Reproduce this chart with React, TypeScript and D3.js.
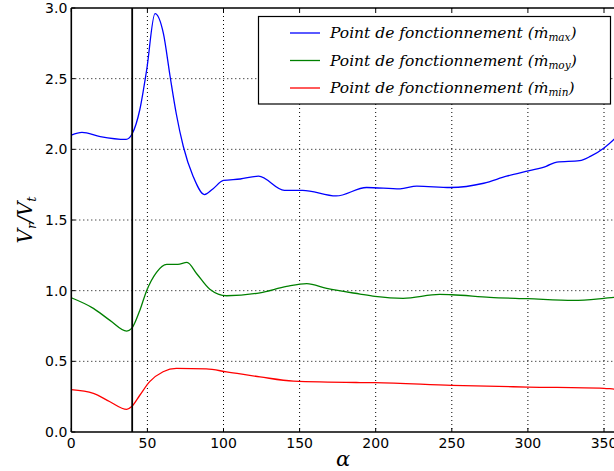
import React from 'react';
import * as d3 from 'd3';

// alpha positions and ratio Vr/Vt
const alphaMax = [0, 7, 19, 36, 40, 45, 49.5, 55, 60.5, 65, 69, 73.6, 80, 87.5, 93, 100, 111, 123, 140, 152, 174, 194, 216, 227, 249, 271, 286, 301, 312, 319, 334, 341, 350, 356.5, 360];
const ratioMax = [2.1, 2.12, 2.09, 2.07, 2.11, 2.28, 2.56, 2.96, 2.82, 2.51, 2.25, 2.02, 1.81, 1.68, 1.72, 1.78, 1.79, 1.81, 1.71, 1.71, 1.67, 1.73, 1.72, 1.74, 1.73, 1.76, 1.81, 1.85, 1.88, 1.91, 1.92, 1.95, 2.01, 2.07, 2.11];

const alphaMoy = [0, 14.5, 25.4, 36.4, 39.7, 45, 49.5, 56, 62.7, 70, 76, 82.4, 91, 102, 124, 141.5, 154.7, 167.8, 189.7, 199.5, 218, 242, 250, 275, 300, 330, 350, 356.5, 360];
const ratioMoy = [0.95, 0.875, 0.79, 0.714, 0.733, 0.86, 1.0, 1.13, 1.186, 1.186, 1.2, 1.12, 1.01, 0.964, 0.985, 1.03, 1.05, 1.016, 0.976, 0.96, 0.946, 0.974, 0.971, 0.953, 0.943, 0.931, 0.946, 0.953, 0.955];

const alphaMin = [0, 14.5, 25.4, 36.4, 39.7, 45, 51.5, 60.3, 69, 88.7, 102, 124, 146, 189.7, 199.5, 250, 300, 350, 356.5, 360];
const ratioMin = [0.3, 0.274, 0.214, 0.16, 0.18, 0.26, 0.356, 0.426, 0.45, 0.446, 0.426, 0.39, 0.36, 0.35, 0.349, 0.33, 0.318, 0.309, 0.304, 0.302];

const xTicks = [0, 50, 100, 150, 200, 250, 300, 350];
const yTicks = [0, 0.5, 1.0, 1.5, 2.0, 2.5, 3.0];
const verticalMark = 40;

const series = [
  { name: 'max', color: '#0000ff', xs: alphaMax, ys: ratioMax },
  { name: 'moy', color: '#008000', xs: alphaMoy, ys: ratioMoy },
  { name: 'min', color: '#ff0000', xs: alphaMin, ys: ratioMin },
];

const W = 614;
const H = 471;
const left = 71.3;
const top = 8;
const bottom = 432;

export default function App() {
  const x = d3.scaleLinear().domain([0, 360]).range([left, left + 360 * (532.7 / 350)]);
  const y = d3.scaleLinear().domain([0, 3]).range([bottom, top]);
  const line = d3
    .line<[number, number]>()
    .x((d) => x(d[0]))
    .y((d) => y(d[1]))
    .curve(d3.curveMonotoneX);

  const tickFont = { fontFamily: 'DejaVu Sans', fontSize: 14, fill: '#000' };
  const mathFont = { fontFamily: 'DejaVu Serif', fontStyle: 'italic' as const };

  return (
    <svg
      width={W}
      height={H}
      style={{ position: 'absolute', left: 0, top: 0, background: '#fff' }}
    >
      <defs>
        <clipPath id="plot">
          <rect x={left} y={top} width={W - left} height={bottom - top} />
        </clipPath>
      </defs>

      {/* grid */}
      {xTicks.slice(1).map((t) => (
        <line key={'gx' + t} x1={x(t)} x2={x(t)} y1={top} y2={bottom} stroke="#000" strokeWidth={1} strokeDasharray="1,3" />
      ))}
      {yTicks.slice(1, -1).map((t) => (
        <line key={'gy' + t} x1={left} x2={W} y1={y(t)} y2={y(t)} stroke="#000" strokeWidth={1} strokeDasharray="1,3" />
      ))}

      {/* data */}
      <g clipPath="url(#plot)">
        {series.map((s) => (
          <path
            key={s.name}
            d={line(s.xs.map((a, i) => [a, s.ys[i]] as [number, number])) || ''}
            fill="none"
            stroke={s.color}
            strokeWidth={1.3}
          />
        ))}
      </g>

      {/* vertical marker */}
      <line x1={x(verticalMark)} x2={x(verticalMark)} y1={top} y2={bottom} stroke="#000" strokeWidth={1.8} />

      {/* spines */}
      <line x1={left} x2={W} y1={top} y2={top} stroke="#000" strokeWidth={1.6} />
      <line x1={left} x2={W} y1={bottom} y2={bottom} stroke="#000" strokeWidth={1.6} />
      <line x1={left} x2={left} y1={top} y2={bottom} stroke="#000" strokeWidth={1.6} />

      {/* ticks */}
      {xTicks.map((t) => (
        <g key={'tx' + t}>
          <line x1={x(t)} x2={x(t)} y1={bottom} y2={bottom - 4} stroke="#000" />
          <line x1={x(t)} x2={x(t)} y1={top} y2={top + 4} stroke="#000" />
          <text x={x(t)} y={bottom + 16} textAnchor="middle" {...tickFont}>
            {t}
          </text>
        </g>
      ))}
      {yTicks.map((t) => (
        <g key={'ty' + t}>
          <line x1={left} x2={left + 4} y1={y(t)} y2={y(t)} stroke="#000" />
          <text x={left - 4} y={y(t) + 5} textAnchor="end" {...tickFont}>
            {t.toFixed(1)}
          </text>
        </g>
      ))}

      {/* axis labels */}
      <text x={343} y={466} textAnchor="middle" fontSize={21} {...mathFont}>
        α
      </text>
      <text transform="translate(32,220) rotate(-90)" textAnchor="middle" fontSize={20} {...mathFont}>
        V
        <tspan fontSize={13} dy={4}>r</tspan>
        <tspan dy={-4}>/V</tspan>
        <tspan fontSize={13} dy={4}>t</tspan>
      </text>

      {/* legend */}
      <rect x={258.5} y={16.5} width={352} height={87.5} fill="#fff" stroke="#000" strokeWidth={1.2} />
      {series.map((s, i) => {
        const ly = 33 + i * 27.5;
        return (
          <g key={'lg' + s.name}>
            <line x1={290} x2={320} y1={ly} y2={ly} stroke={s.color} strokeWidth={1.3} />
            <text x={330} y={ly + 5} fontSize={15.5} {...mathFont}>
              Point de fonctionnement (ṁ
              <tspan fontSize={10.5} dy={3}>{s.name}</tspan>
              <tspan dy={-3}>)</tspan>
            </text>
          </g>
        );
      })}
    </svg>
  );
}
